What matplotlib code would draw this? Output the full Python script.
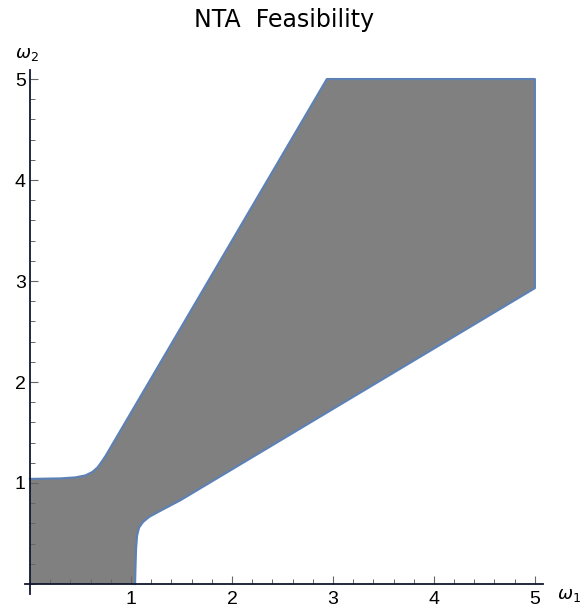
import numpy as np
import matplotlib.pyplot as plt
from matplotlib.ticker import MultipleLocator

# boundary of the feasible region (w1, w2)
upper_w1 = [0.0, 0.30, 0.45, 0.55, 0.62, 0.67, 0.71, 0.75, 0.80, 2.94, 5.0]
upper_w2 = [1.04, 1.045, 1.055, 1.075, 1.11, 1.155, 1.21, 1.27, 1.355, 5.0, 5.0]
lower_w1 = [5.0, 5.0, 1.49, 1.30, 1.18, 1.12, 1.08, 1.06, 1.05, 1.045, 1.04]
lower_w2 = [5.0, 2.93, 0.83, 0.73, 0.665, 0.615, 0.56, 0.48, 0.35, 0.2, 0.0]

ticks = [1, 2, 3, 4, 5]

fig = plt.figure(figsize=(5.82, 6.09), dpi=100)
ax = fig.add_axes([0.0429, 0.0245, 0.890, 0.8606])

bx = upper_w1 + lower_w1[1:] + [0.0]
by = upper_w2 + lower_w2[1:] + [0.0]
ax.fill(bx, by, color='#808080', lw=0, zorder=1)
ax.plot(upper_w1 + lower_w1[1:], upper_w2 + lower_w2[1:], color='#5E81B5', lw=1.6, zorder=2)

ax.set_xlim(-0.05, 5.08)
ax.set_ylim(-0.1, 5.09)

ax.spines['left'].set_position(('data', 0))
ax.spines['bottom'].set_position(('data', 0))
ax.spines['right'].set_visible(False)
ax.spines['top'].set_visible(False)
for s in ['left', 'bottom']:
    ax.spines[s].set_color('#101830')
    ax.spines[s].set_linewidth(1.3)
    ax.spines[s].set_zorder(3)

ax.set_xticks(ticks)
ax.set_yticks(ticks)
ax.xaxis.set_minor_locator(MultipleLocator(0.2))
ax.yaxis.set_minor_locator(MultipleLocator(0.2))
ax.tick_params(which='major', direction='in', length=6, width=0.8, color='#666666',
               labelsize=14, pad=4)
ax.tick_params(which='minor', direction='in', length=3.5, width=0.7, color='#666666')
ax.tick_params(axis='x', which='major', pad=5)
ax.tick_params(axis='y', which='major', pad=3)
for lab in ax.get_xticklabels() + ax.get_yticklabels():
    lab.set_fontfamily('Liberation Sans')

ax.set_title('NTA  Feasibility', fontsize=17, pad=31)
fig.text(0.026, 0.905, r'$\omega_2$', fontsize=13)
fig.text(0.957, 0.017, r'$\omega_1$', fontsize=13)

fig.savefig('out.png', dpi=100)
